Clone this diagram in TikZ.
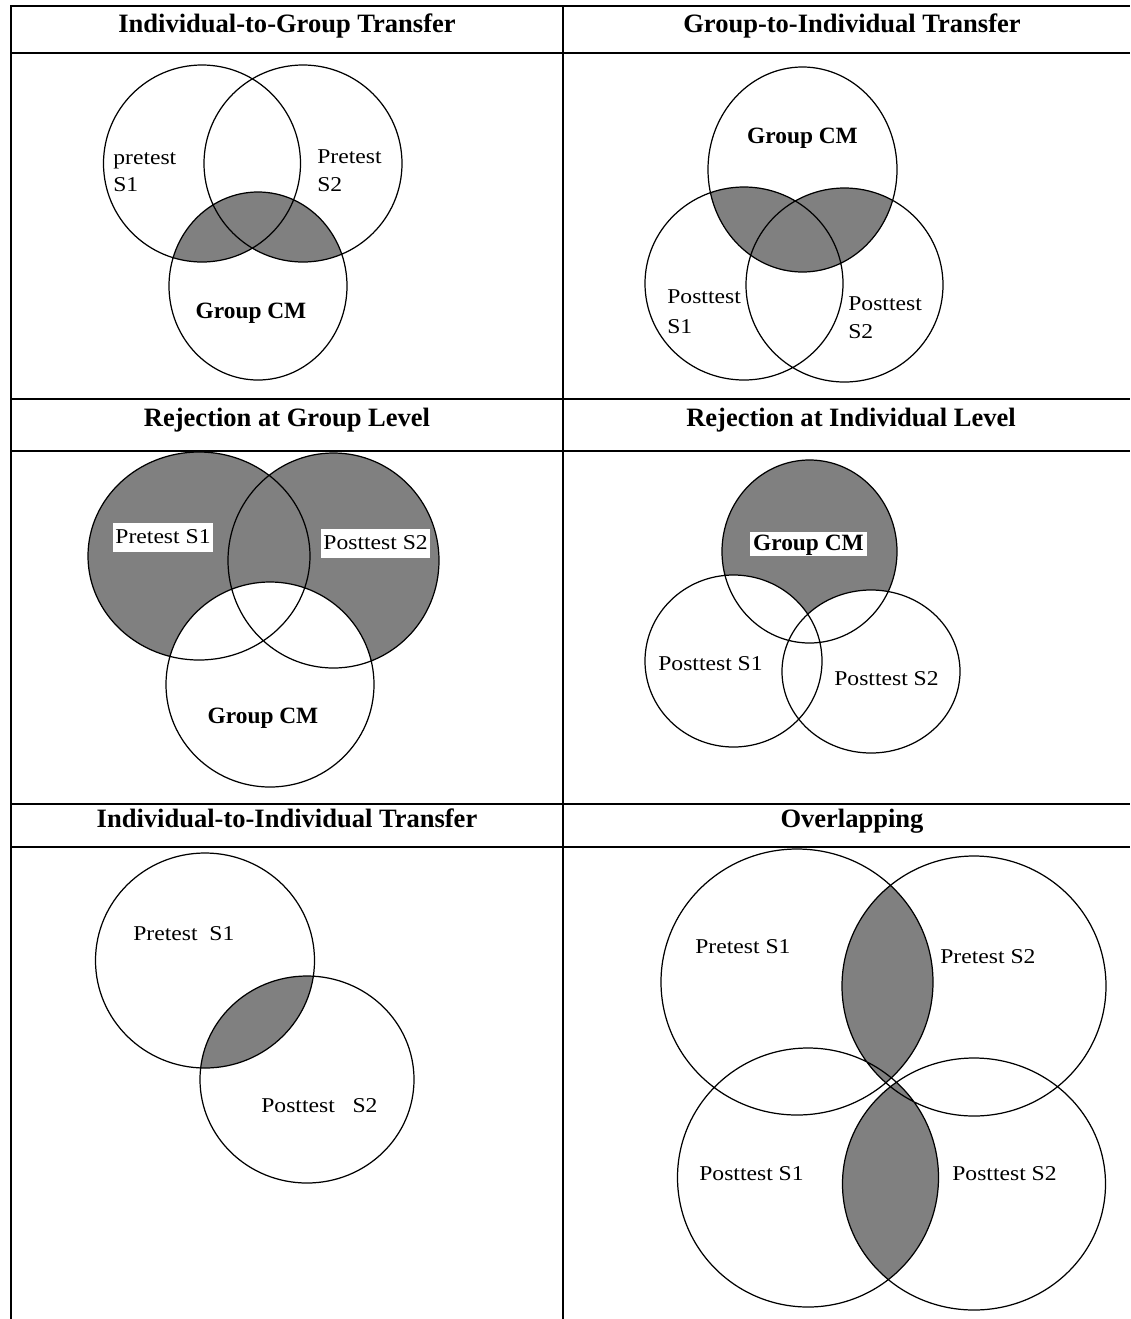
\documentclass[tikz,border=0pt]{standalone}
\usepackage{fontspec}
\setmainfont{Liberation Serif}
\newfontfamily\tagfont{Liberation Serif}[FakeStretch=1.12]
\usetikzlibrary{positioning}
\definecolor{venngray}{RGB}{128,128,128}
\tikzset{
  heading/.style  = {font=\fontsize{15.1}{18}\selectfont\bfseries, inner sep=0pt},
  tag/.style      = {font=\tagfont\fontsize{12}{14}\selectfont, inner sep=0pt},
  tagbox/.style   = {tag, fill=white, text height=11pt, text depth=4.5pt,
                     inner xsep=1.2pt, inner ysep=0.6pt},
  grouptag/.style = {font=\fontsize{13.3}{16}\selectfont\bfseries, inner sep=0pt},
  groupbox/.style = {grouptag, fill=white, text height=10pt, text depth=3pt,
                     inner xsep=1.6pt, inner ysep=0.5pt},
  venn/.style     = {draw=black, line width=0.7pt},
  shaded/.style   = {fill=venngray},
  rule/.style     = {line width=1.2pt},
}

\begin{document}
\begin{tikzpicture}[x=0.02cm, y=-0.02cm]
  \useasboundingbox (0,0) rectangle (1130,1319);

  %circles of every cell
  \def\igA{(202,163.5) ellipse [x radius=98.5, y radius=98.5]}
  \def\igB{(303,163.5) ellipse [x radius=99, y radius=98.5]}
  \def\igC{(258,286) ellipse [x radius=89, y radius=94]}
  \def\giG{(802.5,169.5) ellipse [x radius=94.5, y radius=102.5]}
  \def\giA{(744,283.5) ellipse [x radius=99, y radius=96.5]}
  \def\giB{(844.5,285) ellipse [x radius=98.5, y radius=97]}
  \def\rgA{(199,556) ellipse [x radius=111, y radius=104]}
  \def\rgB{(333.5,560.5) ellipse [x radius=105.5, y radius=107.5]}
  \def\rgC{(270,684.5) ellipse [x radius=104, y radius=102.5]}
  \def\riG{(809.5,551.5) ellipse [x radius=87.5, y radius=91.5]}
  \def\riA{(733.5,661) ellipse [x radius=88.5, y radius=86]}
  \def\riB{(871,671.5) ellipse [x radius=89, y radius=81.5]}
  \def\iiA{(205,960.5) ellipse [x radius=109.5, y radius=107.5]}
  \def\iiB{(307,1079.5) ellipse [x radius=107, y radius=103.5]}
  \def\ovA{(797,982) ellipse [x radius=136, y radius=133]}
  \def\ovB{(974,986) ellipse [x radius=132, y radius=130]}
  \def\ovC{(808,1177.5) ellipse [x radius=130.5, y radius=129.5]}
  \def\ovD{(974,1184) ellipse [x radius=131.5, y radius=126]}

  %shaded parts
  \begin{scope}
    \clip \igC;
    \fill[shaded] \igA \igB;
  \end{scope}
  \begin{scope}
    \clip \giG;
    \fill[shaded] \giA \giB;
  \end{scope}
  \fill[shaded] \rgA \rgB;
  \fill[white] \rgC;
  \fill[shaded] \riG;
  \fill[white] \riA \riB;
  \begin{scope}
    \clip \iiA;
    \fill[shaded] \iiB;
  \end{scope}
  \begin{scope}
    \clip \ovA;
    \fill[shaded] \ovB;
  \end{scope}
  \begin{scope}
    \clip \ovC;
    \fill[shaded] \ovD;
  \end{scope}

  \draw[venn] \igA \igB \igC;
  \draw[venn] \giG \giA \giB;
  \draw[venn] \rgA \rgB \rgC;
  \draw[venn] \riG \riA \riB;
  \draw[venn] \iiA \iiB;
  \draw[venn] \ovA \ovB \ovC \ovD;

  %texts in the circles
  \node[tag, anchor=base west] (ig-s1) at (113,164) {pretest};
  \node[tag, anchor=base west] (ig-s1n) at (113,191) {S1};
  \node[tag, anchor=base west] (ig-s2) at (317,163) {Pretest};
  \node[tag, anchor=base west] (ig-s2n) at (317,191) {S2};
  \node[grouptag, anchor=base] (ig-cm) at (251,318) {Group CM};

  \node[grouptag, anchor=base] (gi-cm) at (802.5,143) {Group CM};
  \node[tag, anchor=base west] (gi-s1) at (667,303) {Posttest};
  \node[tag, anchor=base west] (gi-s1n) at (667,333) {S1};
  \node[tag, anchor=base west] (gi-s2) at (848,310) {Posttest};
  \node[tag, anchor=base west] (gi-s2n) at (848,338) {S2};

  \node[tagbox, anchor=base west] (rg-s1) at (113,543) {Pretest S1};
  \node[tagbox, anchor=base west] (rg-s2) at (321,549) {Posttest S2};
  \node[grouptag, anchor=base] (rg-cm) at (263,723) {Group CM};

  \node[groupbox, anchor=base west] (ri-cm) at (750,550) {Group CM};
  \node[tag, anchor=base west] (ri-s1) at (658,670) {Posttest S1};
  \node[tag, anchor=base west] (ri-s2) at (834,685) {Posttest S2};

  \node[tag, anchor=base west] (ii-s1) at (133,940) {Pretest~~S1};
  \node[tag, anchor=base west] (ii-s2) at (261,1112) {Posttest~~~S2};

  \node[tag, anchor=base west] (ov-pre1) at (695,953) {Pretest S1};
  \node[tag, anchor=base west] (ov-pre2) at (940,963) {Pretest S2};
  \node[tag, anchor=base west] (ov-post1) at (699,1180) {Posttest S1};
  \node[tag, anchor=base west] (ov-post2) at (952,1180) {Posttest S2};

  %table
  \node[heading, anchor=base] (t-ig) at (287,32) {Individual-to-Group Transfer};
  \node[heading, anchor=base] (t-gi) at (852,32) {Group-to-Individual Transfer};
  \node[heading, anchor=base] (t-rg) at (287,426) {Rejection at Group Level};
  \node[heading, anchor=base] (t-ri) at (851,426) {Rejection at Individual Level};
  \node[heading, anchor=base] (t-ii) at (287,827) {Individual-to-Individual Transfer};
  \node[heading, anchor=base] (t-ov) at (852,827) {Overlapping};

  \draw[rule] (11,5) -- (11,1319);
  \draw[rule] (563,5) -- (563,1319);
  \foreach \y in {6,53,399,451,804,847}
    \draw[rule] (10,\y) -- (1130,\y);

\end{tikzpicture}
\end{document}
